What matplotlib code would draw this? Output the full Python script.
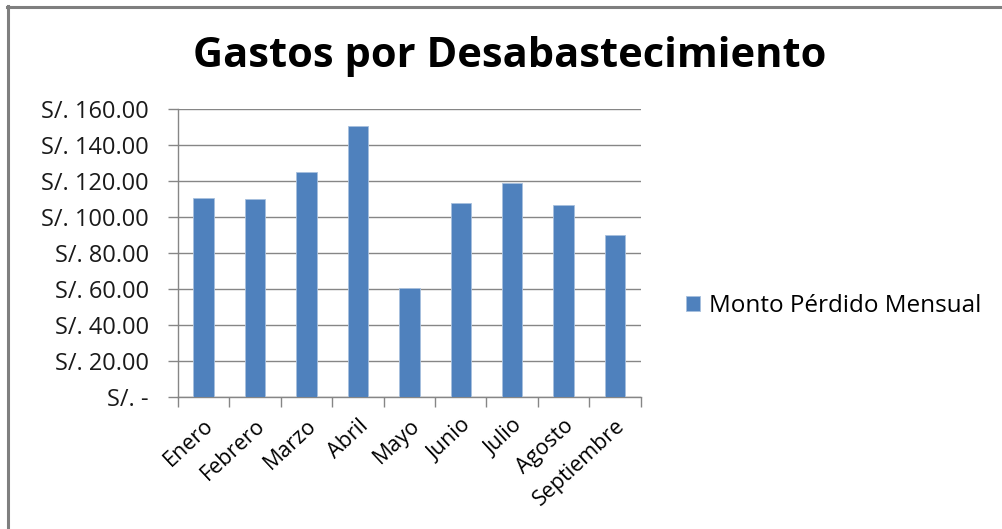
import numpy as np
import matplotlib.pyplot as plt
from matplotlib.lines import Line2D
from matplotlib.ticker import FuncFormatter

meses = ["Enero", "Febrero", "Marzo", "Abril", "Mayo", "Junio", "Julio", "Agosto", "Septiembre"]
monto = [110.4, 109.8, 124.8, 150.7, 60.6, 107.8, 118.9, 106.5, 89.8]
y_ticks = [0, 20, 40, 60, 80, 100, 120, 140, 160]

plt.rcParams['font.family'] = ['Open Sans', 'DejaVu Sans']
azul = "#4f81bd"
gris = "#868686"

fig = plt.figure(figsize=(10.03, 5.29), dpi=100)
ax = fig.add_axes([0.1775, 0.2495, 0.4613, 0.5445])

x = np.arange(len(meses))
ax.bar(x, monto, width=0.4, color=azul, edgecolor="#a7c0de", linewidth=0.6,
       label="Monto Pérdido Mensual", zorder=3)

ax.set_xlim(-0.5, len(meses) - 0.5)
ax.set_ylim(0, 160)
ax.set_yticks(y_ticks)
ax.yaxis.set_major_formatter(FuncFormatter(lambda v, p: "S/. -" if v == 0 else f"S/. {v:.2f}"))
ax.grid(axis="y", color=gris, linewidth=1, zorder=0)

# marcas del eje x entre categorías
ax.set_xticks(x)
ax.set_xticklabels(meses, rotation=43, ha="right", rotation_mode="anchor", fontsize=15.5)
ax.tick_params(axis="x", length=0, pad=13)
ax.set_xticks(np.arange(-0.5, len(meses)), minor=True)
ax.tick_params(axis="x", which="minor", length=7, color=gris, width=1)
ax.tick_params(axis="y", length=7, color=gris, width=1, labelsize=17, pad=14,
               labelcolor="#1a1a1a")

for s in ["top", "right"]:
    ax.spines[s].set_visible(False)
for s in ["left", "bottom"]:
    ax.spines[s].set_color(gris)
    ax.spines[s].set_linewidth(1)

fig.text(0.508, 0.893, "Gastos por Desabastecimiento", ha="center", va="center",
         fontsize=30, fontweight="bold")

fig.legend(loc="center left", bbox_to_anchor=(0.662, 0.421), frameon=False,
           fontsize=17.5, handlelength=0.6, handleheight=0.6, handletextpad=0.35)

# borde del gráfico
fig.add_artist(Line2D([0.008, 0.008], [0, 0.988], color="#7f7f7f", linewidth=2.2,
                      transform=fig.transFigure))
fig.add_artist(Line2D([0.007, 1.0], [0.987, 0.987], color="#7f7f7f", linewidth=2.2,
                      transform=fig.transFigure))

fig.savefig("out.png", dpi=100)
